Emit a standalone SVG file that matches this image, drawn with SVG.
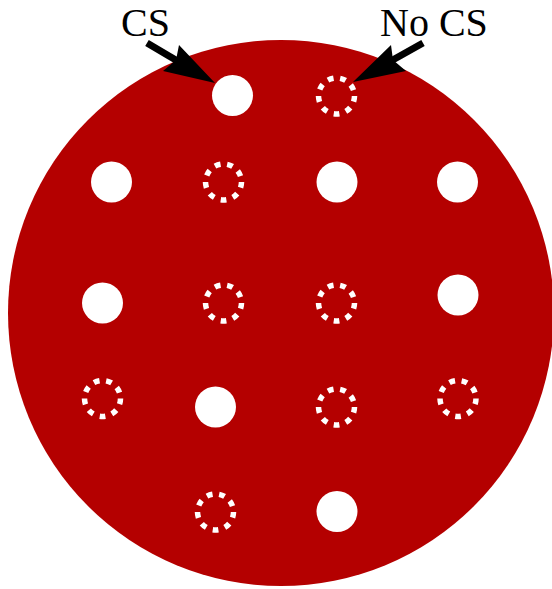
<svg xmlns="http://www.w3.org/2000/svg" width="552" height="589" viewBox="0 0 552 589">
<style>
.disc{fill:#b40000}
.cs{fill:#ffffff}
.nocs{fill:none;stroke:#ffffff;stroke-width:5.5;stroke-dasharray:5.8 6.77}
.lbl{font-family:"Liberation Serif","Times New Roman",serif;font-size:40px;fill:#000}
.shaft{stroke:#000;stroke-width:7;fill:none}
.head{fill:#000}
</style>
<rect width="552" height="589" fill="#ffffff"/>
<g id="dish"><circle class="disc" cx="281" cy="313" r="273"/></g>
<g id="holes">
<circle id="h1" class="cs" cx="232.5" cy="95.5" r="20.5"/>
<circle id="h2" class="nocs" cx="336.5" cy="96" r="18"/>
<circle id="h3" class="cs" cx="111.5" cy="182" r="20.5"/>
<circle id="h4" class="nocs" cx="223.5" cy="182" r="18"/>
<circle id="h5" class="cs" cx="337" cy="182" r="20.5"/>
<circle id="h6" class="cs" cx="457.5" cy="182" r="20.5"/>
<circle id="h7" class="cs" cx="102.5" cy="303" r="20.5"/>
<circle id="h8" class="nocs" cx="223.5" cy="303" r="18"/>
<circle id="h9" class="nocs" cx="336.5" cy="303" r="18"/>
<circle id="h10" class="cs" cx="458" cy="295" r="20.5"/>
<circle id="h11" class="nocs" cx="102.5" cy="398.5" r="18"/>
<circle id="h12" class="cs" cx="215.5" cy="407" r="20.5"/>
<circle id="h13" class="nocs" cx="336.5" cy="407" r="18"/>
<circle id="h14" class="nocs" cx="458" cy="398.5" r="18"/>
<circle id="h15" class="nocs" cx="215.5" cy="512" r="18"/>
<circle id="h16" class="cs" cx="337" cy="511.5" r="20.5"/>
</g>
<g id="label-cs"><text class="lbl" x="121" y="36">CS</text></g>
<g id="label-nocs"><text class="lbl" x="380" y="36">No CS</text></g>
<g id="connectors">
<line class="shaft" x1="147" y1="43" x2="180" y2="62.5"/>
<polygon class="head" points="215,83 179,45 176,60 163,71"/>
<line class="shaft" x1="423" y1="43" x2="390" y2="61.5"/>
<polygon class="head" points="353,82 391,45 393,60 406,71"/>
</g>
</svg>
